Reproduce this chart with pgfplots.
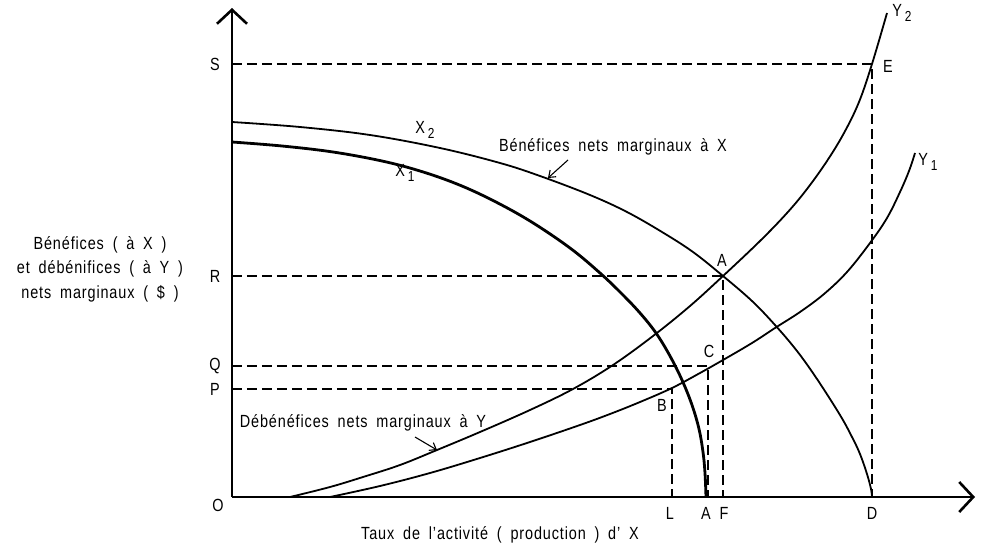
\documentclass[border=0pt]{standalone}
\usepackage{fontspec}
\setmainfont{Liberation Sans}[FakeStretch=0.82,LetterSpace=5,WordSpace=1.8]
\usepackage{pgfplots}
\pgfplotsset{compat=1.18}
\usetikzlibrary{arrows.meta}
\newcommand{\sub}[1]{\,\raisebox{-0.55ex}{\fontsize{14.5}{14.5}\selectfont #1}}
\begin{document}
\begin{tikzpicture}[font=\fontsize{17.6}{24.5}\selectfont]
\begin{axis}[x=1pt,y=1pt,xmin=0,xmax=743,ymin=0,ymax=489,
  axis lines=left, xtick=\empty, ytick=\empty, clip=false,
  axis line style={line width=2.8pt,-{Straight Barb[length=14pt,width=30pt,line width=2.6pt]}}]
\path (axis cs:-232,-53) rectangle (axis cs:752,497);
% dashed guides
\addplot[black,line width=1.1pt,dash pattern=on 10pt off 5pt] coordinates {(0,433) (640,433) (640,0)};
\addplot[black,line width=1.1pt,dash pattern=on 10pt off 5pt] coordinates {(0,221) (491,221) (491,0)};
\addplot[black,line width=1.1pt,dash pattern=on 10pt off 5pt] coordinates {(0,131) (476,131) (476,0)};
\addplot[black,line width=1.1pt,dash pattern=on 10pt off 5pt] coordinates {(0,108) (440,108) (440,0)};
% X2
\addplot[black,line width=1.8pt,smooth,tension=0.6] coordinates {
(0,375) (68,370) (138,362) (208,349) (268,334) (308,321) (358,302) (395,285) (430,265)
(461,245) (491,221) (520,196) (543,172) (565,146) (585,118) (608,82) (620,60) (628,43)
(635,23) (639,8) (640,0)};
% X1
\addplot[black,line width=2.8pt,smooth,tension=0.6] coordinates {
(0,355) (50,351) (101,345) (150,336) (188,326) (225,313) (260,297) (298,276) (338,249)
(368,224) (390,203) (408,184) (424,164) (438,141) (450,117) (460,92) (467,68) (471,45)
(473,24) (474,0)};
% Y2
\addplot[black,line width=1.8pt,smooth,tension=0.6] coordinates {
(58,0) (98,10) (131,20) (168,32) (205,47) (248,65) (298,87) (341,108) (381,132)
(421,161) (458,191) (491,221) (528,256) (555,284) (575,308) (595,336) (612,364)
(627,395) (640,433) (655,484)};
% Y1
\addplot[black,line width=1.8pt,smooth,tension=0.6] coordinates {
(98,0) (148,11) (198,24) (248,39) (298,55) (348,72) (378,83) (408,95) (440,109)
(468,124) (491,137) (520,154) (543,169) (568,185) (592,203) (615,225) (638,254)
(655,279) (668,305) (677,326) (683,344)};
% axis labels
\node at (axis cs:-17,433) {S};
\node at (axis cs:-17,221) {R};
\node at (axis cs:-17,131) {Q};
\node at (axis cs:-17,108) {P};
\node at (axis cs:-14,-8) {O};
\node at (axis cs:438,-16) {L};
\node at (axis cs:474,-16) {A};
\node at (axis cs:492,-16) {F};
\node at (axis cs:640,-16) {D};
\node at (axis cs:490,237) {A};
\node at (axis cs:430,92) {B};
\node at (axis cs:477,146) {C};
\node at (axis cs:656,431) {E};
\node at (axis cs:193,367) {X\sub{2}};
\node at (axis cs:173,324) {X\sub{1}};
\node at (axis cs:670,484) {Y\sub{2}};
\node at (axis cs:696,335) {Y\sub{1}};
\node at (axis cs:381,350) {Bénéfices nets marginaux à X};
\draw[line width=1.1pt,-{Straight Barb[length=6pt,width=9pt]}] (axis cs:336,337) -- (axis cs:316,319);
\node at (axis cs:131,74) {Débénéfices nets marginaux à Y};
\draw[line width=1.1pt,-{Straight Barb[length=6pt,width=9pt]}] (axis cs:183,60) -- (axis cs:205,47);
\node[align=center] at (axis cs:-132,228) {Bénéfices ( à X )\\et débénifices ( à Y )\\nets marginaux ( \$ )};
\node at (axis cs:268,-38) {Taux de l'activité ( production ) d' X};
\end{axis}
\end{tikzpicture}
\end{document}
